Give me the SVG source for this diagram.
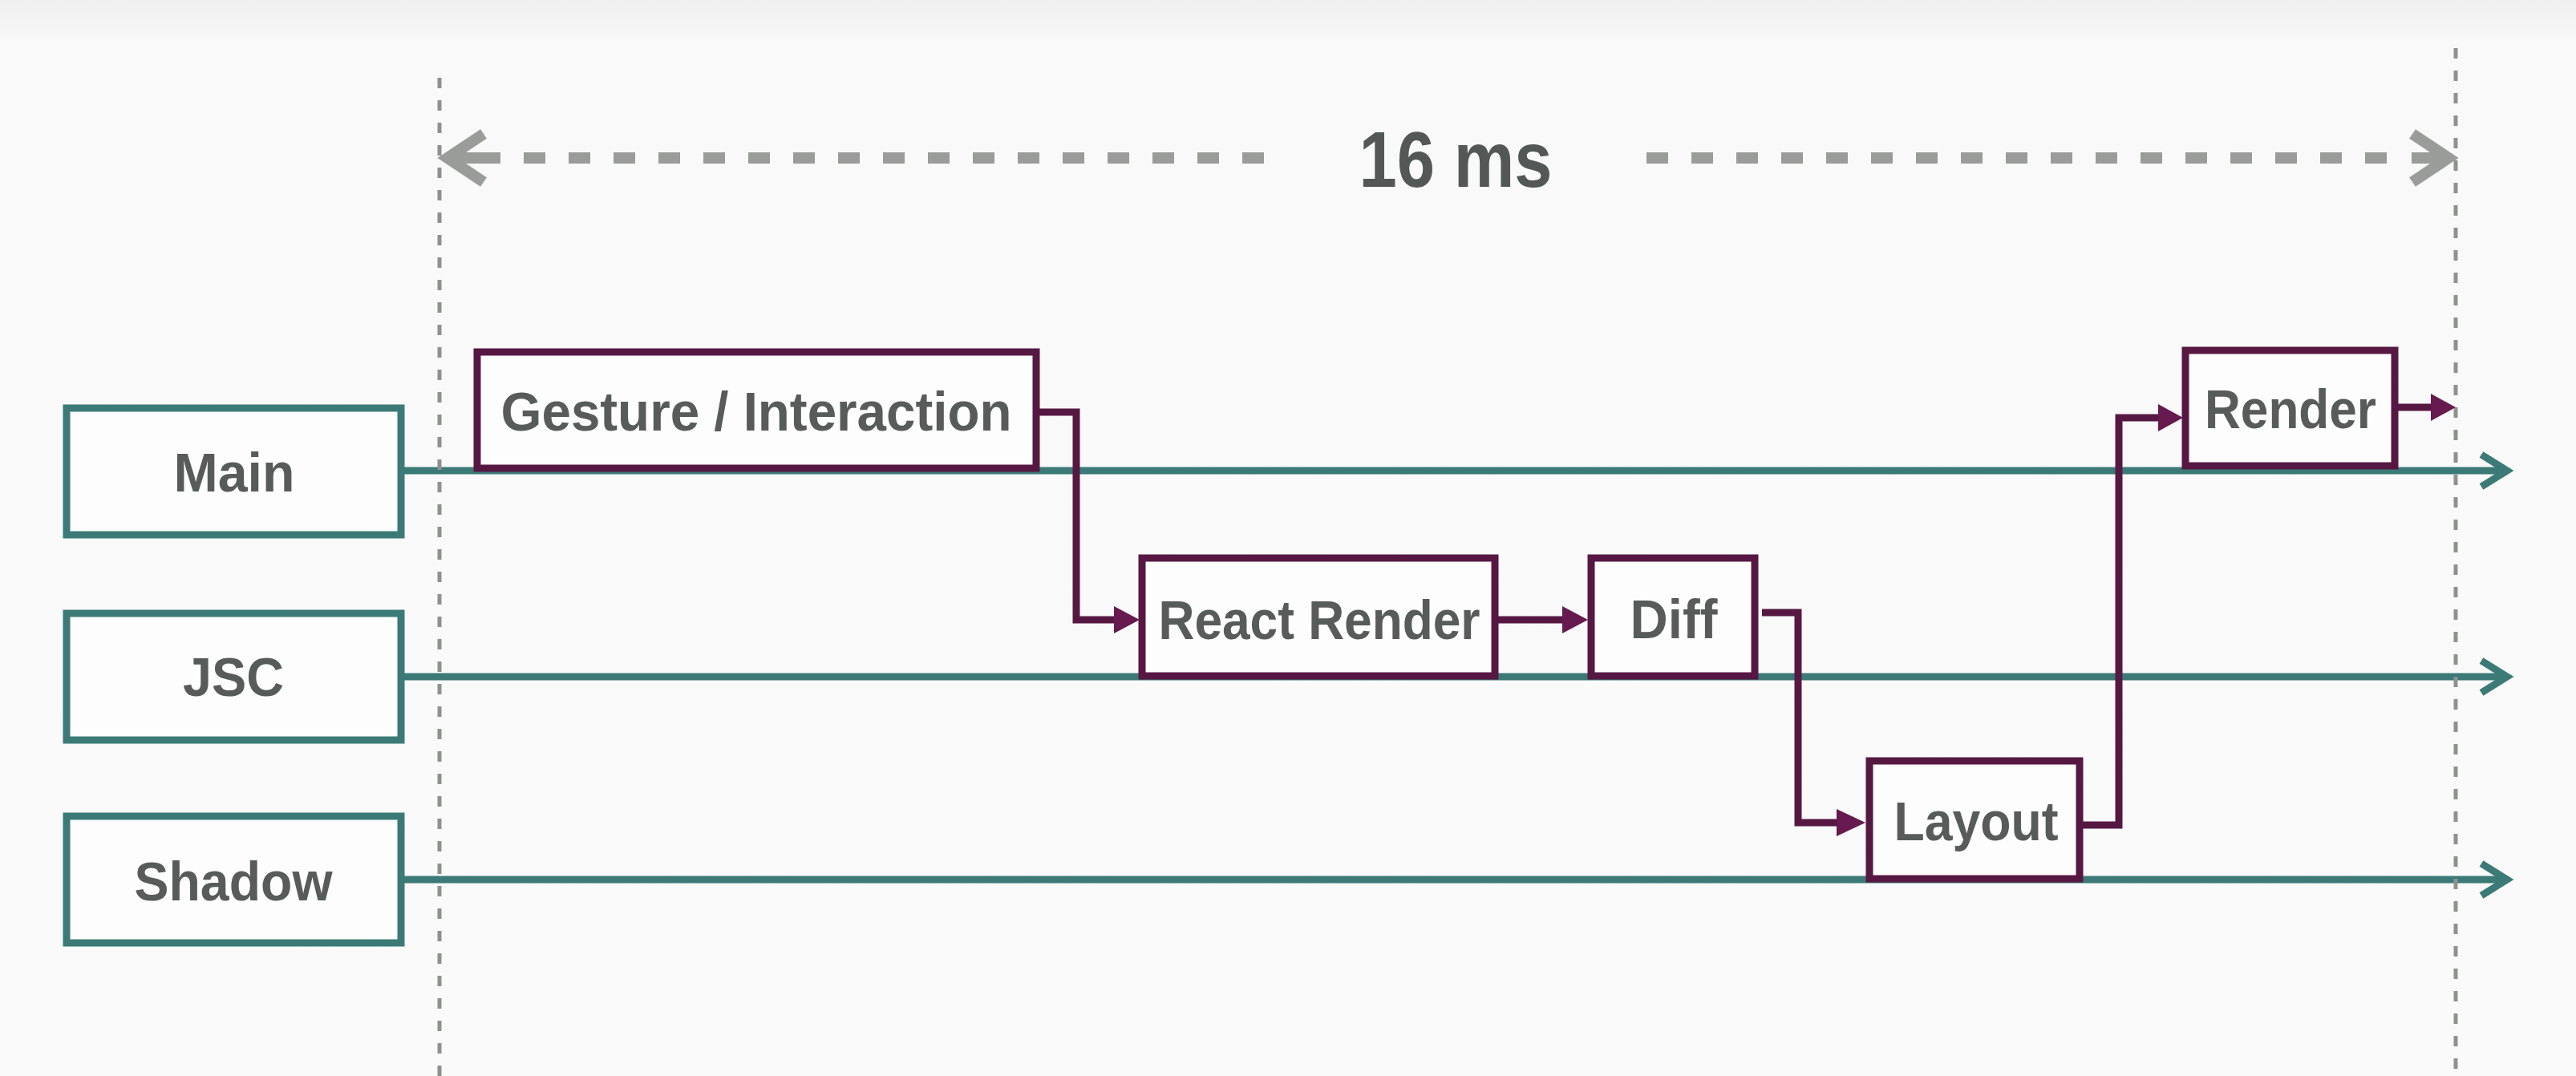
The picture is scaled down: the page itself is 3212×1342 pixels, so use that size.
<svg xmlns="http://www.w3.org/2000/svg" width="3212" height="1342" viewBox="0 0 3212 1342">
  <defs>
    <linearGradient id="bg" x1="0" y1="0" x2="0" y2="1">
      <stop offset="0" stop-color="#eeefee"/>
      <stop offset="0.04" stop-color="#f8f9f8"/>
      <stop offset="1" stop-color="#f9faf9"/>
    </linearGradient>
  </defs>
  <style>
    .lbl { font-family: "Liberation Sans", Arial, sans-serif; font-weight: 700; font-size: 68px; fill: #575b59; text-anchor: middle; }
    .title { font-family: "Liberation Sans", Arial, sans-serif; font-weight: 700; font-size: 98px; fill: #535756; text-anchor: middle; }
    .thread { fill: #fcfdfc; stroke: #3b7a77; stroke-width: 9; }
    .task { fill: #fcfdfc; stroke: #561843; stroke-width: 9; }
    .lane { fill: none; stroke: #3b7a77; stroke-width: 9; }
    .lanehead { fill: none; stroke: #3b7a77; stroke-width: 9; stroke-linejoin: miter; stroke-linecap: butt; }
    .flow { fill: none; stroke: #561843; stroke-width: 9; stroke-linejoin: miter; }
    .flowhead { fill: #661a4f; stroke: none; }
    .guide { fill: none; stroke: #8f918f; stroke-width: 5; stroke-dasharray: 13 15; }
    .span { fill: none; stroke: #9a9c99; stroke-width: 14; }
    .spandash { fill: none; stroke: #9a9c99; stroke-width: 14; stroke-dasharray: 27 29; }
    .spanhead { fill: none; stroke: #9a9c99; stroke-width: 14; stroke-linejoin: miter; }
  </style>
  <rect x="0" y="0" width="3212" height="1342" fill="url(#bg)"/>

  <g id="connectors">
    <!-- thread timelines -->
    <line class="lane" x1="504" y1="587" x2="3124" y2="587"/>
    <polyline class="lanehead" points="3094,567 3126,587 3094,607"/>
    <line class="lane" x1="504" y1="844" x2="3124" y2="844"/>
    <polyline class="lanehead" points="3094,824 3126,844 3094,864"/>
    <line class="lane" x1="504" y1="1097" x2="3124" y2="1097"/>
    <polyline class="lanehead" points="3094,1077 3126,1097 3094,1117"/>

    <!-- 16 ms span -->
    <line class="span" x1="556" y1="197" x2="624" y2="197"/>
    <line class="spandash" x1="653" y1="197" x2="1577" y2="197"/>
    <polyline class="spanhead" points="603,167 558,197 603,227"/>
    <line class="spandash" x1="2053" y1="197" x2="2977" y2="197"/>
    <line class="span" x1="3007" y1="197" x2="3052" y2="197"/>
    <polyline class="spanhead" points="3008,167 3053,197 3008,227"/>

    <!-- frame boundaries -->
    <line class="guide" x1="548" y1="97" x2="548" y2="1342"/>
    <line class="guide" x1="3062" y1="60" x2="3062" y2="1342"/>

    <!-- task flow -->
    <path class="flow" d="M1296,514 H1342 V773 H1394"/>
    <polygon class="flowhead" points="1389,756 1421,773 1389,790"/>
    <path class="flow" d="M1868,773 H1952"/>
    <polygon class="flowhead" points="1948,756 1980,773 1948,790"/>
    <path class="flow" d="M2197,764 H2242 V1026 H2294"/>
    <polygon class="flowhead" points="2290,1009 2326,1026 2290,1043"/>
    <path class="flow" d="M2597,1029 H2642 V521 H2696"/>
    <polygon class="flowhead" points="2691,504 2722,521 2691,538"/>
    <path class="flow" d="M2989,508 H3035"/>
    <polygon class="flowhead" points="3031,491 3062,508 3031,525"/>
  </g>

  <text class="title" x="1815" y="233" textLength="241" lengthAdjust="spacingAndGlyphs">16 ms</text>

  <g id="main">
    <rect class="thread" x="83" y="509" width="417" height="158"/>
    <text class="lbl" x="292" y="613" textLength="151" lengthAdjust="spacingAndGlyphs">Main</text>
  </g>
  <g id="jsc">
    <rect class="thread" x="83" y="765" width="417" height="158"/>
    <text class="lbl" x="291" y="868" textLength="126" lengthAdjust="spacingAndGlyphs">JSC</text>
  </g>
  <g id="shadow">
    <rect class="thread" x="83" y="1018" width="417" height="158"/>
    <text class="lbl" x="291" y="1123" textLength="247" lengthAdjust="spacingAndGlyphs">Shadow</text>
  </g>

  <g id="gesture">
    <rect class="task" x="595" y="439" width="697" height="145"/>
    <text class="lbl" x="943" y="537" textLength="637" lengthAdjust="spacingAndGlyphs">Gesture / Interaction</text>
  </g>
  <g id="react-render">
    <rect class="task" x="1424" y="696" width="440" height="147"/>
    <text class="lbl" x="1645" y="797" textLength="401" lengthAdjust="spacingAndGlyphs">React Render</text>
  </g>
  <g id="diff">
    <rect class="task" x="1984" y="696" width="204" height="147"/>
    <text class="lbl" x="2087" y="796" textLength="109" lengthAdjust="spacingAndGlyphs">Diff</text>
  </g>
  <g id="layout">
    <rect class="task" x="2331" y="949" width="262" height="147"/>
    <text class="lbl" x="2464" y="1048" textLength="205" lengthAdjust="spacingAndGlyphs">Layout</text>
  </g>
  <g id="render">
    <rect class="task" x="2725" y="437" width="261" height="144"/>
    <text class="lbl" x="2856" y="534" textLength="214" lengthAdjust="spacingAndGlyphs">Render</text>
  </g>
</svg>
